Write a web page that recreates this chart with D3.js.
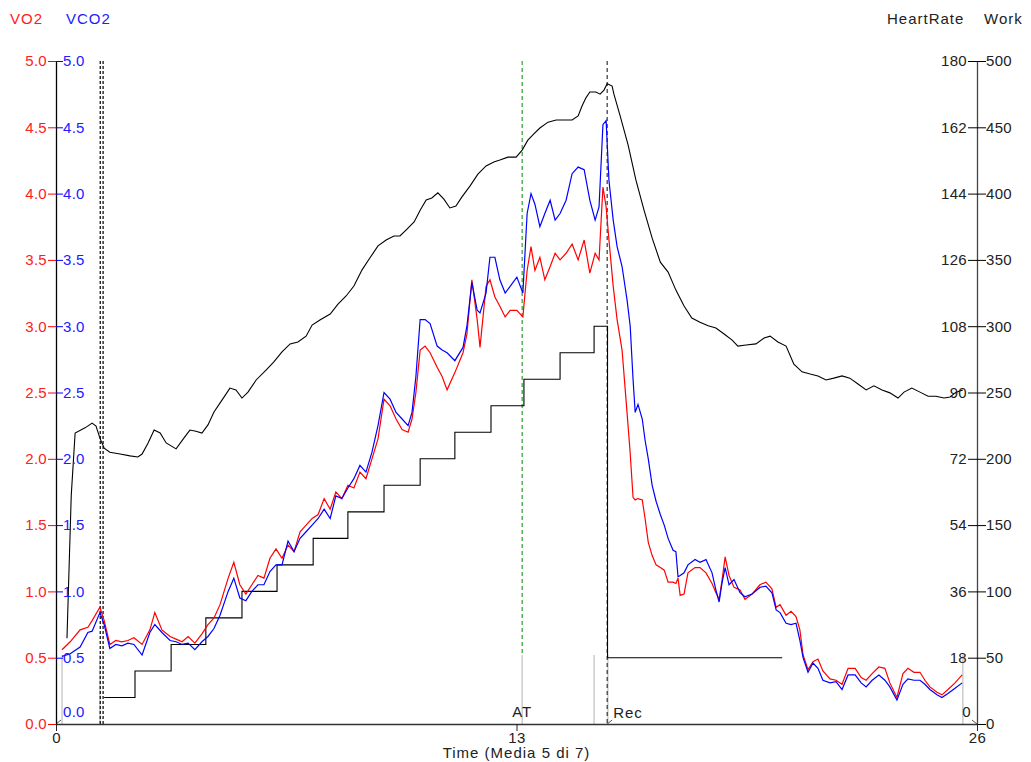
<!DOCTYPE html>
<html>
<head>
<meta charset="utf-8">
<script src="https://cdn.jsdelivr.net/npm/d3@7"></script>
<style>
  body { margin: 0; background: #fff; }
  svg text { font-family: "Liberation Sans", Arial, sans-serif; font-size: 15px; letter-spacing: 1px; }
  svg .tick text { letter-spacing: 0.3px; }
</style>
</head>
<body>
<svg id="chart" width="1031" height="762"></svg>
<script>
// time in minutes, VO2 / VCO2 in l/min
var gasTime = [0.17,0.40,0.68,0.90,1.02,1.24,1.36,1.52,1.69,1.86,
  2.03,2.20,2.43,2.65,2.79,2.99,3.22,3.39,3.56,3.73,
  3.92,4.12,4.29,4.46,4.63,4.86,5.02,5.19,5.36,5.53,
  5.70,5.87,6.04,6.21,6.38,6.55,6.72,6.89,7.06,7.23,
  7.40,7.57,7.74,7.90,8.07,8.24,8.41,8.58,8.75,8.92,
  9.09,9.26,9.43,9.60,9.77,9.94,10.05,10.16,10.28,10.42,
  10.56,10.76,10.90,11.04,11.26,11.49,11.60,11.74,11.89,11.97,
  12.14,12.25,12.39,12.53,12.68,12.82,13.01,13.18,13.30,13.41,
  13.52,13.66,13.80,13.95,14.09,14.23,14.40,14.57,14.74,14.91,
  15.07,15.22,15.33,15.44,15.53,15.61,15.73,15.84,15.98,16.12,
  16.21,16.29,16.35,16.43,16.55,16.63,16.72,16.83,16.94,17.06,
  17.17,17.28,17.42,17.50,17.56,17.62,17.73,17.84,18.04,18.18,
  18.35,18.52,18.63,18.72,18.80,18.89,19.00,19.14,19.31,19.45,
  19.65,19.87,20.04,20.21,20.33,20.44,20.61,20.75,20.89,21.00,
  21.09,21.23,21.37,21.51,21.65,21.85,22.02,22.19,22.36,22.56,
  22.73,22.87,23.04,23.23,23.40,23.54,23.74,23.91,24.05,24.22,
  24.39,24.53,24.67,24.87,25.01,25.18,25.38,25.58];
var vo2 = [0.56,0.62,0.71,0.73,0.78,0.88,0.78,0.60,0.63,0.62,
  0.63,0.65,0.60,0.71,0.84,0.71,0.66,0.64,0.62,0.66,
  0.61,0.68,0.75,0.80,0.90,1.10,1.22,1.05,0.98,1.05,
  1.12,1.10,1.25,1.32,1.25,1.35,1.30,1.45,1.50,1.55,
  1.58,1.70,1.62,1.75,1.70,1.80,1.78,1.90,1.85,2.00,
  2.15,2.45,2.40,2.30,2.22,2.20,2.30,2.50,2.82,2.85,
  2.80,2.69,2.62,2.52,2.65,2.80,2.94,3.35,3.05,2.84,
  3.30,3.35,3.22,3.15,3.07,3.12,3.12,3.07,3.42,3.60,
  3.42,3.52,3.35,3.45,3.55,3.50,3.55,3.62,3.50,3.65,
  3.40,3.55,3.50,4.05,3.90,3.65,3.30,3.05,2.82,2.35,
  2.04,1.71,1.69,1.70,1.69,1.55,1.37,1.27,1.20,1.18,
  1.16,1.07,1.07,1.06,1.10,0.97,0.98,1.14,1.18,1.18,
  1.14,1.06,0.99,0.94,1.08,1.26,1.12,1.03,1.01,0.94,
  0.98,1.05,1.07,1.02,0.88,0.90,0.82,0.85,0.81,0.71,
  0.52,0.41,0.47,0.49,0.40,0.34,0.33,0.30,0.42,0.42,
  0.35,0.33,0.38,0.43,0.42,0.31,0.20,0.38,0.42,0.39,
  0.39,0.33,0.28,0.24,0.22,0.26,0.31,0.37];
var vco2 = [0.51,0.53,0.58,0.69,0.70,0.84,0.75,0.57,0.60,0.59,
  0.61,0.60,0.52,0.69,0.75,0.69,0.63,0.62,0.60,0.61,
  0.56,0.62,0.66,0.72,0.82,1.00,1.10,0.95,0.93,1.00,
  1.05,1.05,1.15,1.20,1.20,1.38,1.30,1.40,1.45,1.50,
  1.55,1.62,1.55,1.72,1.70,1.78,1.85,1.95,1.90,2.05,
  2.25,2.50,2.45,2.35,2.30,2.25,2.35,2.62,3.05,3.05,
  3.02,2.85,2.82,2.80,2.74,2.84,3.00,3.33,3.12,3.10,
  3.25,3.52,3.52,3.35,3.25,3.30,3.37,3.25,3.85,4.00,
  3.92,3.75,3.85,3.95,3.80,3.85,3.95,4.15,4.20,4.18,
  3.95,3.80,3.90,4.52,4.55,4.10,3.80,3.60,3.45,3.20,
  3.00,2.60,2.35,2.41,2.30,2.14,2.00,1.80,1.68,1.58,
  1.50,1.40,1.31,1.30,1.11,1.12,1.14,1.20,1.24,1.22,
  1.24,1.14,1.01,0.92,1.06,1.18,1.05,1.09,0.99,0.96,
  0.98,1.03,1.04,0.99,0.86,0.84,0.76,0.75,0.76,0.63,
  0.50,0.39,0.46,0.42,0.33,0.31,0.32,0.26,0.37,0.37,
  0.31,0.28,0.33,0.37,0.33,0.28,0.18,0.30,0.34,0.33,
  0.33,0.30,0.26,0.22,0.20,0.23,0.27,0.31];

// heart rate (bpm)
var hrTime = [0.31,0.43,0.54,0.82,1.02,1.13,1.24,1.36,1.52,1.81,
  2.09,2.31,2.43,2.60,2.77,2.94,3.11,3.39,3.61,3.78,
  3.95,4.12,4.29,4.46,4.69,4.91,5.08,5.25,5.42,5.65,
  5.93,6.15,6.38,6.61,6.83,7.06,7.23,7.45,7.74,7.96,
  8.19,8.41,8.64,8.86,9.09,9.32,9.54,9.71,9.88,10.11,
  10.28,10.45,10.61,10.78,10.95,11.12,11.29,11.46,11.69,11.91,
  12.14,12.36,12.53,12.76,12.99,13.16,13.32,13.49,13.66,13.89,
  14.12,14.57,14.74,14.85,14.96,15.07,15.24,15.36,15.47,15.56,
  15.70,15.75,15.92,16.15,16.37,16.60,16.83,17.06,17.28,17.50,
  17.73,17.95,18.18,18.41,18.63,18.86,19.08,19.25,19.48,19.76,
  19.99,20.16,20.38,20.61,20.83,21.06,21.29,21.51,21.74,21.96,
  22.19,22.41,22.64,22.87,23.09,23.32,23.54,23.77,23.94,24.16,
  24.39,24.62,24.84,25.07,25.24,25.41,25.60];
var hrBpm = [23.3,62,79,80.4,81.7,80.9,77.6,74.9,73.8,73.3,
  72.8,72.5,73.3,76.3,79.8,79.0,76.3,74.7,77.6,79.8,
  79.5,79.0,81.2,84.7,88.0,91.2,90.7,88.5,90.1,93.4,
  96.1,98.3,101.0,103.2,103.7,105.3,108.3,109.7,111.3,114.0,
  116.2,118.9,123.3,126.5,129.8,131.4,132.5,132.5,134.1,136.3,
  139.5,142.3,142.8,144.2,142.5,140.1,140.6,143.1,146.1,149.3,
  151.5,152.6,153.1,153.9,153.9,155.8,158.5,160.2,161.8,163.4,
  164.0,164.0,165.1,167.8,170.0,171.6,171.6,171.0,172.1,173.8,
  173.2,171.0,165.3,157.2,147.7,139.5,131.9,125.4,122.7,117.8,
  113.5,110.2,109.1,108.1,107.5,105.9,104.3,102.6,102.9,103.2,
  104.8,105.3,103.7,102.6,97.7,95.6,95.0,94.5,93.4,93.9,
  94.5,93.9,92.3,90.7,91.8,90.7,89.9,88.5,90.1,91.2,
  90.1,89.0,89.0,88.5,88.8,90.1,90.7];

// work load (W), each value holds from its time until the next one
var workTime = [1.36,2.23,3.25,4.23,5.25,6.24,7.26,8.24,9.26,10.28,11.26,12.28,13.21,14.23,15.19,15.57,20.50];
var workWatt = [20,40,60,80,100,120,140,160,180,200,220,240,260,280,300,50,50];

// event markers (min)
var markerTimes = [0.17, 1.24, 13.16, 15.19, 15.58, 25.60];
var startTimes = [1.25, 1.33];   // double dotted line: start of exercise
var atTime = 13.16;
var recTime = 15.56;

var gasTicks = [0, 0.5, 1, 1.5, 2, 2.5, 3, 3.5, 4, 4.5, 5];
var hrTicks = [0, 18, 36, 54, 72, 90, 108, 126, 144, 162, 180];
var workTicks = [0, 50, 100, 150, 200, 250, 300, 350, 400, 450, 500];
var timeTicks = [0, 13, 26];

var svg = d3.select("#chart");

var x = d3.scaleLinear().domain([0, 26]).range([56, 977]);
var yGas = d3.scaleLinear().domain([0, 5]).range([724, 61]);
var yHR = d3.scaleLinear().domain([0, 180]).range([724, 61]);
var yWork = d3.scaleLinear().domain([0, 500]).range([724, 61]);

// header labels
svg.append("text").attr("x", 10).attr("y", 24).attr("fill", "#ff2020").text("VO2");
svg.append("text").attr("x", 66).attr("y", 24).attr("fill", "#2020ff").text("VCO2");
svg.append("text").attr("x", 887).attr("y", 24).attr("fill", "#222").text("HeartRate");
svg.append("text").attr("x", 984).attr("y", 24).attr("fill", "#222").text("Work");

// markers at bottom (gray)
svg.selectAll(".marker")
  .data(markerTimes)
  .enter().append("line")
  .attr("class", "marker")
  .attr("x1", function(d) { return x(d); })
  .attr("x2", function(d) { return x(d); })
  .attr("y1", yGas(0))
  .attr("y2", yGas(0.52))
  .attr("stroke", "#c4c4c4")
  .attr("stroke-width", 1.3);

// start of exercise
svg.selectAll(".start")
  .data(startTimes)
  .enter().append("line")
  .attr("x1", function(d) { return x(d); })
  .attr("x2", function(d) { return x(d); })
  .attr("y1", yGas(5))
  .attr("y2", yGas(0))
  .attr("stroke", "#222")
  .attr("stroke-width", 1.4)
  .attr("stroke-dasharray", "3,2");

// AT and recovery lines
svg.append("line")
  .attr("x1", x(atTime)).attr("x2", x(atTime))
  .attr("y1", yGas(5)).attr("y2", yGas(0.52))
  .attr("stroke", "#2ca02c")
  .attr("stroke-width", 1.2)
  .attr("stroke-dasharray", "4,3");

svg.append("line")
  .attr("x1", x(recTime)).attr("x2", x(recTime))
  .attr("y1", yGas(5)).attr("y2", yGas(0))
  .attr("stroke", "#333")
  .attr("stroke-width", 1.2)
  .attr("stroke-dasharray", "4,3");

svg.append("text").attr("x", x(atTime)).attr("y", 717).attr("text-anchor", "middle").attr("fill", "#222").text("AT");
svg.append("text").attr("x", x(recTime) + 6).attr("y", 718).attr("fill", "#222").text("Rec");

// little slash marks on the time axis
[[0, 1], [recTime, 1], [26, -1]].forEach(function(m) {
  svg.append("line")
    .attr("x1", x(m[0])).attr("y1", yGas(0))
    .attr("x2", x(m[0]) + 5 * m[1]).attr("y2", yGas(0) - 4)
    .attr("stroke", "#555");
});

// work load steps
var workData = workTime.map(function(t, i) { return { t: t, w: workWatt[i] }; });
svg.append("path")
  .datum(workData)
  .attr("fill", "none")
  .attr("stroke", "#000")
  .attr("stroke-width", 1.1)
  .attr("d", d3.line()
    .curve(d3.curveStepAfter)
    .x(function(d) { return x(d.t); })
    .y(function(d) { return yWork(d.w); }));

// heart rate
var hrData = hrTime.map(function(t, i) { return { t: t, v: hrBpm[i] }; });
svg.append("path")
  .datum(hrData)
  .attr("fill", "none")
  .attr("stroke", "#000")
  .attr("stroke-width", 1.1)
  .attr("d", d3.line()
    .x(function(d) { return x(d.t); })
    .y(function(d) { return yHR(d.v); }));

// VO2 and VCO2
var gasLine = d3.line()
  .x(function(d) { return x(d.t); })
  .y(function(d) { return yGas(d.v); });

svg.append("path")
  .datum(gasTime.map(function(t, i) { return { t: t, v: vo2[i] }; }))
  .attr("fill", "none")
  .attr("stroke", "#ff0000")
  .attr("stroke-width", 1.2)
  .attr("d", gasLine);

svg.append("path")
  .datum(gasTime.map(function(t, i) { return { t: t, v: vco2[i] }; }))
  .attr("fill", "none")
  .attr("stroke", "#0000ff")
  .attr("stroke-width", 1.2)
  .attr("d", gasLine);

// left axes: VO2 ticks outward (red), VCO2 ticks inward (blue)
var vo2Axis = svg.append("g")
  .attr("transform", "translate(" + x(0) + ",0)")
  .call(d3.axisLeft(yGas).tickValues(gasTicks).tickFormat(d3.format(".1f"))
    .tickSize(8).tickSizeOuter(0).tickPadding(1));
vo2Axis.select(".domain").attr("stroke", "#000").attr("stroke-width", 1.3);
vo2Axis.selectAll(".tick line").attr("stroke", "#ff0000");
vo2Axis.selectAll(".tick text").attr("fill", "#ff2020");

var vco2Axis = svg.append("g")
  .attr("transform", "translate(" + x(0) + ",0)")
  .call(d3.axisRight(yGas).tickValues(gasTicks).tickFormat(d3.format(".1f"))
    .tickSize(7).tickSizeOuter(0).tickPadding(0));
vco2Axis.select(".domain").remove();
vco2Axis.selectAll(".tick line").attr("stroke", "#0000ff");
vco2Axis.selectAll(".tick text").attr("fill", "#2020ff");
vco2Axis.selectAll(".tick").filter(function(d) { return d === 0; })
  .select("text").attr("transform", "translate(0,-12)");

// right axes: heart rate and work
var hrAxis = svg.append("g")
  .attr("transform", "translate(" + x(26) + ",0)")
  .call(d3.axisLeft(yHR).tickValues(hrTicks).tickSize(9).tickSizeOuter(0).tickPadding(1));
hrAxis.select(".domain").attr("stroke", "#444").attr("stroke-width", 1.3);
hrAxis.selectAll(".tick line").attr("stroke", "#000");
hrAxis.selectAll(".tick text").attr("fill", "#222");
hrAxis.selectAll(".tick").filter(function(d) { return d === 0; })
  .select("text").attr("transform", "translate(4,-12)");

var workAxis = svg.append("g")
  .attr("transform", "translate(" + x(26) + ",0)")
  .call(d3.axisRight(yWork).tickValues(workTicks).tickSize(9).tickSizeOuter(0).tickPadding(0));
workAxis.select(".domain").remove();
workAxis.selectAll(".tick line").attr("stroke", "#000");
workAxis.selectAll(".tick text").attr("fill", "#222");

// time axis
var timeAxis = svg.append("g")
  .attr("transform", "translate(0," + yGas(0) + ")")
  .call(d3.axisBottom(x).tickValues(timeTicks).tickSize(7).tickSizeOuter(0).tickPadding(1));
timeAxis.select(".domain").attr("stroke", "#333").attr("stroke-width", 1.3);
timeAxis.selectAll(".tick line").attr("stroke", "#222");
timeAxis.selectAll(".tick text").attr("fill", "#222");

svg.append("text")
  .attr("x", x(13))
  .attr("y", 758)
  .attr("text-anchor", "middle")
  .attr("fill", "#222")
  .text("Time (Media 5 di 7)");
</script>
</body>
</html>
